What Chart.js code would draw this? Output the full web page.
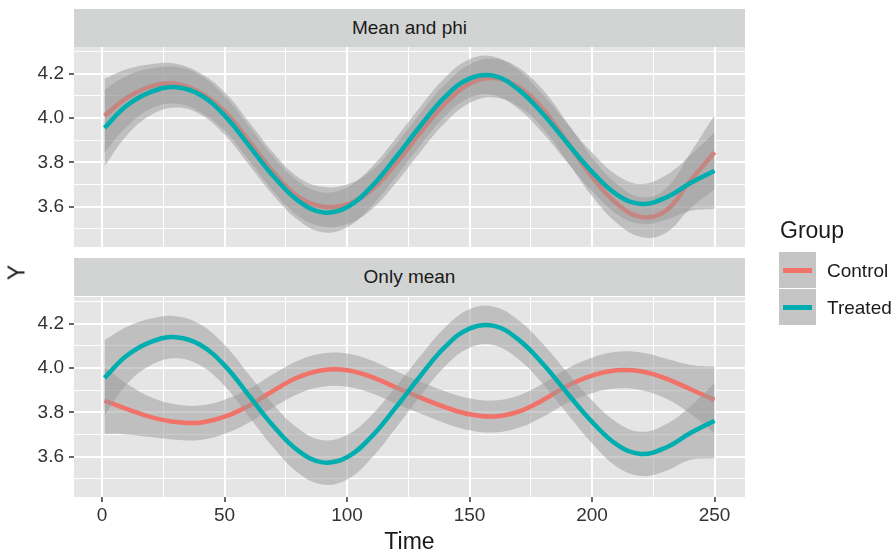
<!DOCTYPE html>
<html>
<head>
<meta charset="utf-8">
<title>Mean and phi / Only mean</title>
<script src="https://cdn.jsdelivr.net/npm/chart.js@4.4.1/dist/chart.umd.min.js"></script>
<style>
  body { margin: 0; background: #fff; }
  #page { position: relative; width: 894px; height: 551px; overflow: hidden;
          font-family: "Liberation Sans", Arial, Helvetica, sans-serif; color: #1a1a1a; }
  #page canvas { position: absolute; left: 0; top: 0; }
  .strip { position: absolute; left: 74px; width: 671px; height: 38px; line-height: 38px;
           background: #d2d3d3; text-align: center; font-size: 19px; }
  .txt { position: absolute; white-space: nowrap; }
  .key { position: absolute; left: 779px; width: 37px; height: 36px; background: #c5c5c5; }
  .key span { position: absolute; left: 4px; right: 4px; top: 15.5px; height: 5px; }
</style>
</head>
<body>
<div id="page">
  <canvas id="chartTop" width="894" height="551"></canvas>
  <canvas id="chartBottom" width="894" height="551"></canvas>
</div>
<script>
// --- data ---
const panelTitles = ["Mean and phi", "Only mean"];
const groups = ["Control", "Treated"];
const colors = ["#F17268", "#00AEAF"];

const timePoints = [1, 10, 20, 30, 40, 50, 60, 70, 80, 90, 100, 110, 120, 130,
                    140, 150, 160, 170, 180, 190, 200, 210, 220, 230, 240, 250];

// panel "Mean and phi"
const phiControl   = [4.01, 4.09, 4.143, 4.155, 4.115, 4.03, 3.895, 3.755, 3.645, 3.60, 3.61, 3.675, 3.795,
                      3.935, 4.065, 4.155, 4.18, 4.14, 4.04, 3.89, 3.735, 3.615, 3.553, 3.58, 3.715, 3.845];
const phiControlSe = [0.167, 0.13, 0.10, 0.09, 0.088, 0.087, 0.087, 0.087, 0.088, 0.09, 0.09, 0.088, 0.087,
                      0.087, 0.087, 0.087, 0.087, 0.087, 0.087, 0.087, 0.087, 0.088, 0.09, 0.10, 0.125, 0.167];
const phiTreated   = [3.955, 4.055, 4.118, 4.139, 4.105, 4.012, 3.875, 3.737, 3.627, 3.574, 3.597, 3.69, 3.823,
                      3.965, 4.095, 4.178, 4.19, 4.128, 4.018, 3.885, 3.757, 3.655, 3.612, 3.64, 3.705, 3.762];
const phiTreatedSe = [0.173, 0.135, 0.105, 0.092, 0.088, 0.087, 0.087, 0.087, 0.088, 0.09, 0.09, 0.088, 0.087,
                      0.087, 0.087, 0.087, 0.087, 0.087, 0.087, 0.087, 0.087, 0.088, 0.09, 0.10, 0.125, 0.172];

// panel "Only mean"
const meanControl   = [3.853, 3.815, 3.778, 3.756, 3.753, 3.78, 3.83, 3.898, 3.958, 3.99, 3.99, 3.96, 3.912,
                       3.866, 3.823, 3.791, 3.781, 3.803, 3.855, 3.92, 3.966, 3.99, 3.985, 3.953, 3.905, 3.856];
const meanControlSe = [0.15, 0.115, 0.09, 0.08, 0.078, 0.077, 0.076, 0.075, 0.075, 0.075, 0.075, 0.074, 0.073,
                       0.072, 0.072, 0.072, 0.072, 0.073, 0.075, 0.078, 0.08, 0.083, 0.085, 0.09, 0.11, 0.15];
const meanTreated   = [3.955, 4.055, 4.118, 4.139, 4.105, 4.012, 3.875, 3.737, 3.627, 3.574, 3.597, 3.69, 3.823,
                       3.965, 4.095, 4.178, 4.19, 4.128, 4.018, 3.885, 3.757, 3.655, 3.612, 3.64, 3.705, 3.762];
const meanTreatedSe = [0.17, 0.13, 0.105, 0.095, 0.093, 0.093, 0.095, 0.097, 0.1, 0.1, 0.1, 0.097, 0.093,
                       0.09, 0.088, 0.087, 0.087, 0.088, 0.09, 0.093, 0.097, 0.1, 0.1, 0.105, 0.12, 0.17];

const xTicks  = [0, 25, 50, 75, 100, 125, 150, 175, 200, 225, 250];
const xLabels = [0, 50, 100, 150, 200, 250];
const yTicks  = [3.5, 3.6, 3.7, 3.8, 3.9, 4.0, 4.1, 4.2, 4.3];
const yLabels = [3.6, 3.8, 4.0, 4.2];

const FONT = '"Liberation Sans", Arial, Helvetica, sans-serif';
const ribbonFill = "rgba(153, 153, 153, 0.5)";

// === helpers ===
const series = vals => timePoints.map((t, i) => ({ x: t, y: vals[i] }));
const band = (vals, se, sign) => timePoints.map((t, i) => ({ x: t, y: vals[i] + sign * se[i] }));
const isMajor = (v, list) => list.some(l => Math.abs(l - v) < 1e-6);

function panelSets(ctrl, ctrlSe, trt, trtSe) {
  const line = (data, c, order, label) => ({
    label, data, borderColor: c, borderWidth: 4.5, pointRadius: 0,
    tension: 0.4, fill: false, order,
  });
  const edge = (data, fill, order) => ({
    data, borderColor: "rgba(0,0,0,0)", borderWidth: 1, pointRadius: 0,
    tension: 0.4, fill, backgroundColor: ribbonFill, order,
  });
  // drawn from highest order to lowest: control ribbon, control line, treated ribbon, treated line
  return [
    line(series(trt), colors[1], 1, groups[1]),
    edge(band(trt, trtSe, -1), false, 2),
    edge(band(trt, trtSe, 1), "-1", 2),
    line(series(ctrl), colors[0], 3, groups[0]),
    edge(band(ctrl, ctrlSe, -1), false, 4),
    edge(band(ctrl, ctrlSe, 1), "-1", 4),
  ];
}

function makeScales(showX) {
  return {
    x: {
      type: "linear", min: -11.45, max: 262.45,
      afterBuildTicks: s => { s.ticks = xTicks.map(v => ({ value: v })); },
      afterFit: s => { s.height = showX ? 54 : 0; },
      ticks: {
        display: showX, autoSkip: false, maxRotation: 0, padding: 2,
        color: "#333", font: { size: 19, family: FONT },
        callback: v => isMajor(v, xLabels) ? String(v) : "",
      },
      grid: {
        color: "#fff", drawTicks: showX, tickLength: 5, tickWidth: 1.5,
        lineWidth: c => (c.tick && isMajor(c.tick.value, xLabels)) ? 2 : 1,
        tickColor: c => (c.tick && isMajor(c.tick.value, xLabels)) ? "#333" : "rgba(0,0,0,0)",
      },
      border: { display: false },
    },
    y: {
      type: "linear", min: 3.4176, max: 4.3205,
      afterBuildTicks: s => { s.ticks = yTicks.map(v => ({ value: v })); },
      afterFit: s => { s.width = 74; },
      ticks: {
        autoSkip: false, padding: 5, color: "#333", font: { size: 19, family: FONT },
        callback: v => isMajor(v, yLabels) ? v.toFixed(1) : "",
      },
      grid: {
        color: "#fff", tickLength: 5, tickWidth: 1.5,
        lineWidth: c => (c.tick && isMajor(c.tick.value, yLabels)) ? 2 : 1,
        tickColor: c => (c.tick && isMajor(c.tick.value, yLabels)) ? "#333" : "rgba(0,0,0,0)",
      },
      border: { display: false },
    },
  };
}

// gray panel background
const panelBg = {
  id: "panelBg",
  beforeDraw(chart) {
    const { ctx, chartArea: a } = chart;
    ctx.save();
    ctx.fillStyle = "#e5e5e5";
    ctx.fillRect(a.left, a.top, a.right - a.left, a.bottom - a.top);
    ctx.restore();
  },
};

function makeChart(id, datasets, showX, padding) {
  return new Chart(document.getElementById(id), {
    type: "line",
    data: { datasets },
    options: {
      responsive: false, animation: false, devicePixelRatio: 1,
      layout: { padding },
      plugins: { legend: { display: false }, tooltip: { enabled: false } },
      scales: makeScales(showX),
    },
    plugins: [panelBg],
  });
}

// === Panel: Mean and phi ===
makeChart("chartTop", panelSets(phiControl, phiControlSe, phiTreated, phiTreatedSe), false,
  { top: 47, bottom: 304, left: 0, right: 149 });

// === Panel: Only mean ===
makeChart("chartBottom", panelSets(meanControl, meanControlSe, meanTreated, meanTreatedSe), true,
  { top: 297, bottom: 0, left: 0, right: 149 });

// === strips, titles, legend ===
const page = document.getElementById("page");
function addText(text, x, capY, size, extra) {
  const d = document.createElement("div");
  d.className = "txt";
  d.textContent = text;
  d.style.fontSize = size + "px";
  d.style.lineHeight = size + "px";
  d.style.left = x + "px";
  d.style.top = (capY - 0.49 * size) + "px";
  if (extra) Object.assign(d.style, extra);
  page.appendChild(d);
  return d;
}
[9, 258].forEach((top, i) => {
  const s = document.createElement("div");
  s.className = "strip";
  s.style.top = top + "px";
  s.textContent = panelTitles[i];
  page.appendChild(s);
});
addText("Time", 409.5, 541, 23, { transform: "translateX(-50%)" });
addText("Y", 17, 272, 23, { transform: "translate(-50%, 0) rotate(-90deg)", transformOrigin: "50% 50%" });
addText("Group", 780, 230, 23);
groups.forEach((g, i) => {
  const k = document.createElement("div");
  k.className = "key";
  k.style.top = (252 + i * 37) + "px";
  const ln = document.createElement("span");
  ln.style.background = colors[i];
  k.appendChild(ln);
  page.appendChild(k);
  addText(g, 827, 270 + i * 37, 19);
});
</script>
</body>
</html>
